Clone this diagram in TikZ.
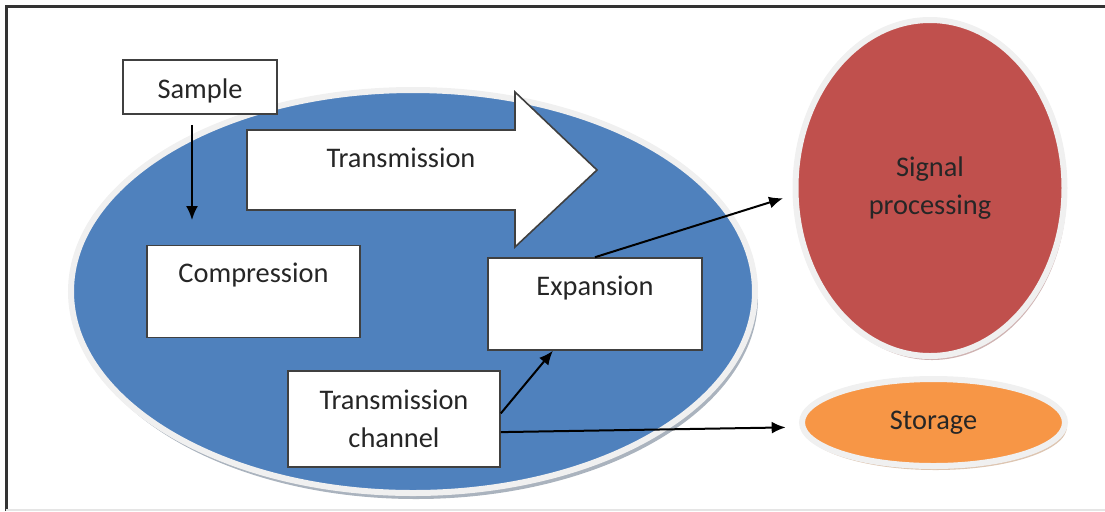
\documentclass[tikz,border=0pt]{standalone}
\usepackage{fontspec}
\setmainfont{Carlito}
\usetikzlibrary{shapes.geometric,shadows,arrows.meta}
\definecolor{officeblue}{RGB}{79,129,189}
\definecolor{officered}{RGB}{192,80,77}
\definecolor{officeorange}{RGB}{247,150,70}
\definecolor{rimgray}{RGB}{240,240,240}
\begin{document}
\begin{tikzpicture}[x=0.5pt, y=-0.5pt, font=\fontsize{14.2}{19}\selectfont, text=black!85,
    box/.style={draw=black!75, line width=0.8pt, fill=white, inner sep=0pt, align=center},
    topbox/.style={box, text height=18.5pt, text depth=27.5pt},
    blob/.style={ellipse, draw=rimgray, line width=3pt, inner sep=0pt, align=center},
    link/.style={-{Latex[length=7pt,width=6pt]}, line width=1pt}]
    \useasboundingbox (0,0) rectangle (1105,511);
    % Frame
    \draw[black!80, line width=1.5pt] (6,511) -- (6,6) -- (1105,6);
    \draw[black!10, line width=1pt] (6,510) -- (1105,510);
    % Ellipses
    \node[blob, fill=officeblue, minimum width=342pt, minimum height=201.5pt,
        drop shadow={shadow xshift=1.5pt, shadow yshift=-3pt, fill=officeblue!30!gray, opacity=0.6}] (net) at (413,291.5) {};
    \node[blob, fill=officered, minimum width=134.5pt, minimum height=168pt,
        drop shadow={shadow xshift=1pt, shadow yshift=-2pt, fill=officered!50!gray, opacity=0.5}] (sig) at (930,188) {Signal\\processing};
    \node[blob, fill=officeorange, minimum width=131.5pt, minimum height=43.5pt,
        drop shadow={shadow xshift=1pt, shadow yshift=-2pt, fill=officeorange!50!gray, opacity=0.5}] (stor) at (933.5,422.5) {Storage};
    % Block arrow
    \draw[fill=white, draw=black!75, line width=0.8pt] (247,130) -- (515,130) -- (515,92) -- (597,170)
        -- (515,247) -- (515,210) -- (247,210) -- cycle;
    \node (flow) at (401,158) {Transmission};
    % Boxes
    \node[box, minimum width=77pt, text height=19pt, text depth=8pt] (smp) at (200,87) {Sample};
    \node[topbox, minimum width=106.5pt] (comp) at (253.5,291.5) {Compression};
    \node[topbox, minimum width=107pt] (exp) at (595,304) {Expansion};
    \node[box, minimum width=106pt, minimum height=48pt] (ch) at (394,419) {Transmission\\channel};
    % Connectors
    \coordinate (smpend) at (192,220);
    \draw[link, shorten <=5pt] (smp.south -| smpend) -- (smpend);
    \draw[link, shorten >=5pt] (exp.north) -- (sig.183);
    \draw[link] (ch.3) -- (exp.228);
    \draw[link, shorten >=7pt] (ch.-7) -- (stor.182);
\end{tikzpicture}
\end{document}
